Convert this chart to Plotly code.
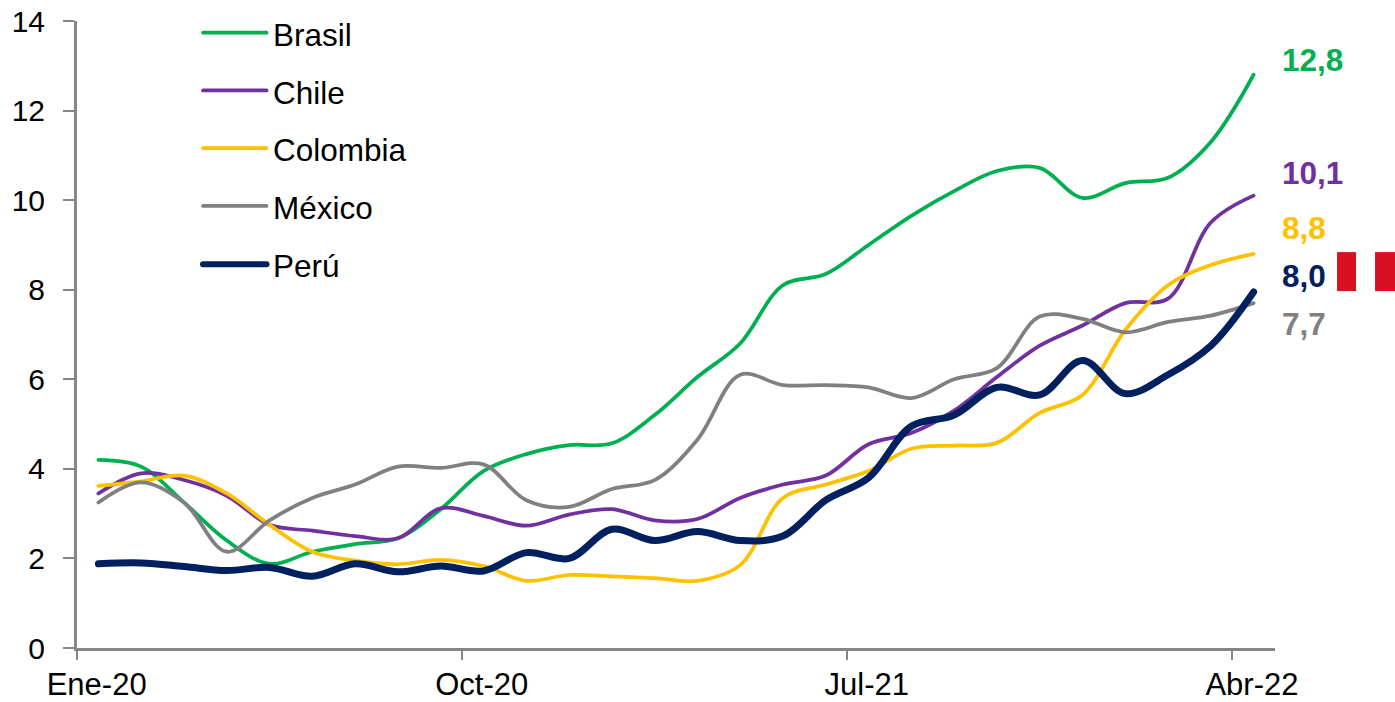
import plotly.graph_objects as go

categories = ["Ene-20","Feb-20","Mar-20","Abr-20","May-20","Jun-20","Jul-20","Ago-20","Set-20","Oct-20","Nov-20","Dic-20","Ene-21","Feb-21","Mar-21","Abr-21","May-21","Jun-21","Jul-21","Ago-21","Set-21","Oct-21","Nov-21","Dic-21","Ene-22","Feb-22","Mar-22","Abr-22"]
brasil = [4.2,4.05,3.25,2.4,1.88,2.15,2.32,2.45,3.1,3.95,4.33,4.53,4.57,5.2,6.05,6.8,8.1,8.35,9.0,9.65,10.2,10.65,10.72,10.05,10.38,10.5,11.3,12.8]
chile = [3.45,3.9,3.75,3.4,2.75,2.62,2.5,2.45,3.12,2.95,2.73,2.98,3.1,2.85,2.88,3.35,3.65,3.85,4.55,4.8,5.3,6.05,6.75,7.2,7.7,7.8,9.5,10.1]
colombia = [3.62,3.72,3.85,3.45,2.75,2.15,1.95,1.87,1.97,1.83,1.5,1.63,1.6,1.56,1.5,1.85,3.35,3.65,3.95,4.45,4.52,4.58,5.25,5.65,7.1,8.1,8.55,8.8]
mexico = [3.25,3.7,3.25,2.15,2.85,3.35,3.65,4.05,4.02,4.1,3.3,3.15,3.55,3.75,4.65,6.1,5.87,5.87,5.82,5.58,6.0,6.25,7.4,7.35,7.05,7.28,7.42,7.7]
peru = [1.88,1.9,1.82,1.73,1.8,1.6,1.88,1.7,1.83,1.72,2.13,2.0,2.65,2.4,2.6,2.4,2.5,3.3,3.8,4.95,5.2,5.82,5.65,6.42,5.68,6.1,6.75,7.95]

series_names = ["Brasil","Chile","Colombia","México","Perú"]
series_values = [brasil,chile,colombia,mexico,peru]
series_colors = ["#00B050","#7030A0","#FFC000","#808080","#002060"]
series_widths = [3.75,3.75,3.75,3.75,7]
end_labels = ["12,8","10,1","8,8","7,7","8,0"]
end_label_y = [13.14,10.60,9.37,7.23,8.30]
legend_y = [13.74,12.45,11.16,9.87,8.57]
axis_color = "#868686"
font = "Liberation Sans"
text_size = 31.5
x_text_size = 31
y_text_size = 30

x = list(range(len(categories)))
fig = go.Figure()
for n, v, c, w in zip(series_names, series_values, series_colors, series_widths):
    fig.add_trace(go.Scatter(x=x, y=v, mode="lines", name=n, showlegend=False,
                             line=dict(color=c, width=w, shape="spline", smoothing=1.0), hoverinfo="skip"))
fig.add_trace(go.Scatter(x=[0], y=[0], xaxis="x2", mode="markers", marker=dict(opacity=0), showlegend=False, hoverinfo="skip"))

# legend drawn as sample strokes with labels, in the original's positions
for n, c, w, ly in zip(series_names, series_colors, series_widths, legend_y):
    fig.add_shape(type="line", xref="paper", yref="y", x0=0.1052, x1=0.1582, y0=ly, y1=ly,
                  line=dict(color=c, width=min(w, 6)))
    fig.add_annotation(xref="paper", yref="y", x=0.1620, y=ly-0.05, text=n, showarrow=False, xanchor="left",
                       font=dict(family=font, size=text_size, color="black"))

for t, c, ly in zip(end_labels, series_colors, end_label_y):
    fig.add_annotation(xref="paper", yref="y", x=1.0042, y=ly, text="<b>%s</b>" % t, showarrow=False, xanchor="left",
                       font=dict(family=font, size=text_size, color=c))

# Peruvian flag beside the Perú label
fig.add_shape(type="rect", xref="paper", yref="y", x0=1.0518, x1=1.0676, y0=7.97, y1=8.84, fillcolor="#D91023", line_width=0)
fig.add_shape(type="rect", xref="paper", yref="y", x0=1.0835, x1=1.1002, y0=7.97, y1=8.84, fillcolor="#D91023", line_width=0)

fig.update_layout(
    width=1395, height=702, paper_bgcolor="white", plot_bgcolor="white", showlegend=False,
    margin=dict(l=77, r=120, t=20.5, b=53.5, autoexpand=False),
    font=dict(family=font, size=text_size, color="black"),
    xaxis=dict(range=[-0.5,27.5], tickmode="array", tickvals=[-0.04,8.96,17.96,26.96],
               ticktext=[categories[i] for i in (0,9,18,27)], ticks="", showgrid=False, zeroline=False,
               showline=True, linecolor=axis_color, linewidth=3, tickfont=dict(size=x_text_size), tickangle=0,
               ticklabelstandoff=7),
    xaxis2=dict(range=[-0.5,27.5], overlaying="x", side="bottom", anchor="y", tickmode="array",
                tickvals=[-0.5,8.5,17.5,26.5], ticktext=["","","",""], ticks="outside", ticklen=11, tickwidth=2,
                tickcolor=axis_color, showgrid=False, zeroline=False, showline=False),
    yaxis=dict(range=[0,14], tickmode="array", tickvals=list(range(0,15,2)), ticks="outside", ticklen=11, tickwidth=2,
               tickcolor=axis_color, showgrid=False, zeroline=False, showline=True, linecolor=axis_color, linewidth=3,
               tickfont=dict(size=y_text_size), ticklabelstandoff=12),
)
page_fix = ("document.body.style.margin='0';"
            "document.querySelectorAll('.js-line, .shapelayer path').forEach(function(p){p.style.strokeLinecap='round';});")
fig.write_html("out.html", post_script=page_fix, config=dict(displayModeBar=False))
